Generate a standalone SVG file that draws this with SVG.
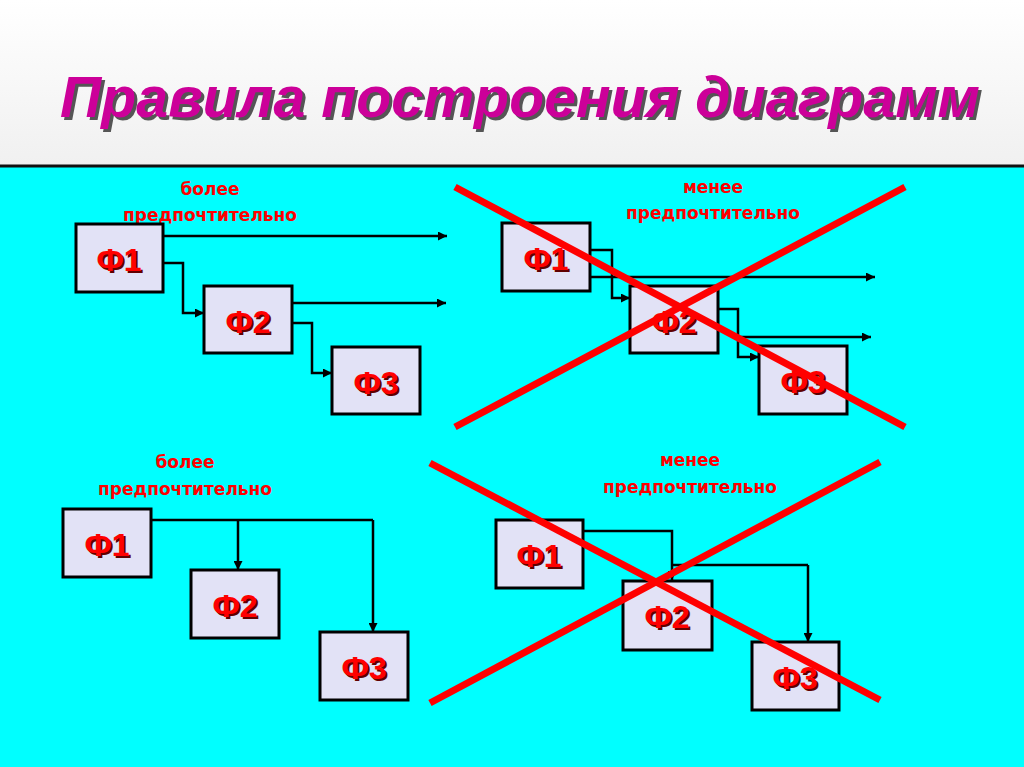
<svg xmlns="http://www.w3.org/2000/svg" width="1024" height="767" viewBox="0 0 1024 767">
<defs>
<linearGradient id="hg" x1="0" y1="0" x2="0" y2="1"><stop offset="0" stop-color="#ffffff"/><stop offset="1" stop-color="#f0f0f0"/></linearGradient>
<marker id="ar" viewBox="0 0 10 10" refX="10" refY="5" markerWidth="11" markerHeight="9" orient="auto" markerUnits="userSpaceOnUse"><path d="M0,0 L10,5 L0,10 z" fill="#000"/></marker>
</defs>
<style>
.box{fill:#E2E2F6;stroke:#000;stroke-width:3}
.bt{font-family:"Liberation Sans",Arial,sans-serif;font-weight:bold;font-size:32px;fill:#FF0000;text-anchor:middle}
.sh{fill:#600000}
.lb{font-family:"DejaVu Sans",Verdana,sans-serif;font-weight:bold;font-size:17px;fill:#FF0000;text-anchor:middle}
.c{fill:none;stroke:#000;stroke-width:2.5}
.a{marker-end:url(#ar)}
.x{stroke:#FF0000;stroke-width:7;stroke-linecap:butt}
.tt{font-family:"Liberation Sans",Arial,sans-serif;font-weight:bold;font-style:italic;font-size:58px;text-anchor:middle}
</style>
<rect x="0" y="0" width="1024" height="767" fill="#00FFFF"/>
<rect x="0" y="0" width="1024" height="166" fill="url(#hg)"/>
<line x1="0" y1="166" x2="1024" y2="166" stroke="#111" stroke-width="3"/>
<text class="tt" x="523" y="120" fill="#555" textLength="920" lengthAdjust="spacingAndGlyphs">Правила построения диаграмм</text>
<text class="tt" x="520" y="117" fill="#CC0099" textLength="920" lengthAdjust="spacingAndGlyphs">Правила построения диаграмм</text>

<text class="lb" x="210" y="195">более</text>
<text class="lb" x="210" y="221">предпочтительно</text>
<text class="lb" x="713" y="193">менее</text>
<text class="lb" x="713" y="219">предпочтительно</text>
<text class="lb" x="185" y="468">более</text>
<text class="lb" x="185" y="495">предпочтительно</text>
<text class="lb" x="690" y="466">менее</text>
<text class="lb" x="690" y="493">предпочтительно</text>

<g id="connectors">
<path class="c a" d="M163,236 H447"/>
<path class="c a" d="M163,263 H183 V313 H204"/>
<path class="c a" d="M292,303 H446"/>
<path class="c a" d="M292,323 H312 V373 H332"/>
<path class="c a" d="M590,250 H612 V298 H630"/>
<path class="c a" d="M590,277 H875"/>
<path class="c a" d="M718,309 H738 V357 H759"/>
<path class="c a" d="M738,337 H871"/>
<path class="c" d="M151,520 H373"/>
<path class="c a" d="M373,520 V632"/>
<path class="c a" d="M238,520 V570"/>
<path class="c" d="M557,531 H672 V565"/>
<path class="c a" d="M672,565 V580"/>
<path class="c" d="M672,565 H808"/>
<path class="c a" d="M808,565 V642"/>
</g>

<g id="tl-f1"><rect class="box" x="76" y="224" width="87" height="68"/><text class="bt sh" x="121" y="273">Ф1</text><text class="bt" x="119" y="271">Ф1</text></g>
<g id="tl-f2"><rect class="box" x="204" y="286" width="88" height="67"/><text class="bt sh" x="250" y="335">Ф2</text><text class="bt" x="248" y="333">Ф2</text></g>
<g id="tl-f3"><rect class="box" x="332" y="347" width="88" height="67"/><text class="bt sh" x="378" y="396">Ф3</text><text class="bt" x="376" y="394">Ф3</text></g>

<g id="tr-f1"><rect class="box" x="502" y="223" width="88" height="68"/><text class="bt sh" x="548" y="272">Ф1</text><text class="bt" x="546" y="270">Ф1</text></g>
<g id="tr-f2"><rect class="box" x="630" y="286" width="88" height="67"/><text class="bt sh" x="676" y="335">Ф2</text><text class="bt" x="674" y="333">Ф2</text></g>
<g id="tr-f3"><rect class="box" x="759" y="346" width="88" height="68"/><text class="bt sh" x="805" y="395">Ф3</text><text class="bt" x="803" y="393">Ф3</text></g>

<g id="bl-f1"><rect class="box" x="63" y="509" width="88" height="68"/><text class="bt sh" x="109" y="558">Ф1</text><text class="bt" x="107" y="556">Ф1</text></g>
<g id="bl-f2"><rect class="box" x="191" y="570" width="88" height="68"/><text class="bt sh" x="237" y="619">Ф2</text><text class="bt" x="235" y="617">Ф2</text></g>
<g id="bl-f3"><rect class="box" x="320" y="632" width="88" height="68"/><text class="bt sh" x="366" y="681">Ф3</text><text class="bt" x="364" y="679">Ф3</text></g>

<g id="br-f1"><rect class="box" x="496" y="520" width="87" height="68"/><text class="bt sh" x="541" y="569">Ф1</text><text class="bt" x="539" y="567">Ф1</text></g>
<g id="br-f2"><rect class="box" x="623" y="581" width="89" height="69"/><text class="bt sh" x="669" y="630">Ф2</text><text class="bt" x="667" y="628">Ф2</text></g>
<g id="br-f3"><rect class="box" x="752" y="642" width="87" height="68"/><text class="bt sh" x="797" y="691">Ф3</text><text class="bt" x="795" y="689">Ф3</text></g>

<line class="x" x1="455" y1="187" x2="905" y2="427"/>
<line class="x" x1="455" y1="427" x2="905" y2="187"/>
<line class="x" x1="430" y1="463" x2="880" y2="700"/>
<line class="x" x1="430" y1="703" x2="880" y2="462"/>
</svg>
